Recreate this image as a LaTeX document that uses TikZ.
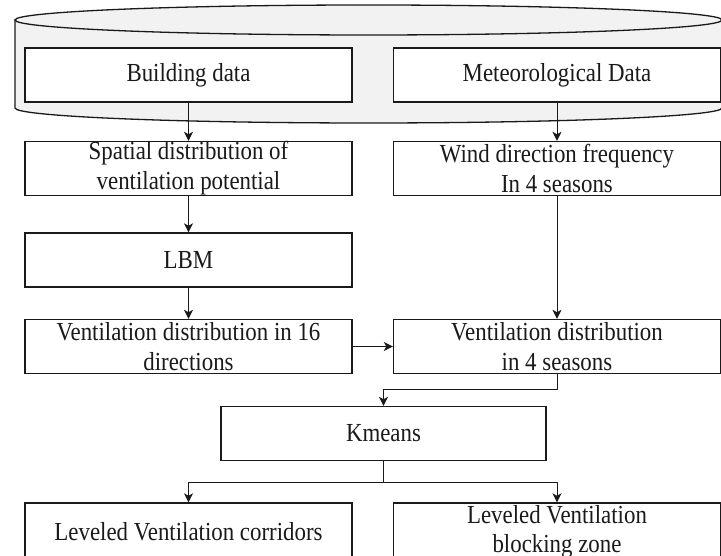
\documentclass[tikz,border=0pt]{standalone}
\usepackage{fontspec}
\setmainfont[FakeStretch=0.88]{Liberation Serif}
\usetikzlibrary{arrows.meta}
\definecolor{cylfill}{HTML}{F2F2F2}
\definecolor{ink}{HTML}{1A1A1A}
\begin{document}
\begin{tikzpicture}[x=1pt,y=1pt,
  box/.style={draw=ink, line width=1.4pt, fill=white, minimum width=327pt, minimum height=54pt,
    inner sep=0pt, align=center, text=ink, font=\fontsize{26pt}{30pt}\selectfont},
  arr/.style={draw=ink, line width=1pt, -{Stealth[length=9pt,width=9pt,inset=2.5pt]}},
  ln/.style={draw=ink, line width=1pt},
  cyl/.style={draw=ink, line width=1.3pt, fill=cylfill}]
\useasboundingbox (0,0) rectangle (721,556);
\clip (0,0) rectangle (721,556);
% cylinder
\path[cyl] (15,536) -- (15,448) arc[start angle=180,end angle=360,x radius=353.5pt,y radius=15pt] -- (722,536) -- cycle;
\draw[cyl] (368.5,536) ellipse[x radius=353.5pt, y radius=15pt];
% nodes
\node[box] (BD) at (188.5,481) {Building data};
\node[box] (MD) at (557,481) {Meteorological Data};
\node[box] (SP) at (188.5,387.5) {Spatial distribution of\\ventilation potential};
\node[box] (WD) at (557,387.5) {Wind direction frequency\\In 4 seasons};
\node[box] (LBM) at (188.5,296) {LBM};
\node[box] (V16) at (188.5,209.5) {Ventilation distribution in 16\\directions};
\node[box] (V4) at (557,209.5) {Ventilation distribution\\in 4 seasons};
\node[box, minimum width=325pt] (KM) at (383.5,122.5) {Kmeans};
\node[box, minimum height=58pt] (BL) at (188.5,24) {Leveled Ventilation corridors};
\node[box, minimum height=58pt, font=\fontsize{26pt}{29pt}\selectfont] (BR) at (557,24) {Leveled Ventilation\\blocking zone};
% connectors
\coordinate (e1) at (557,166);
\coordinate (s1) at (383.5,73);
\draw[arr] (BD) -- (SP);
\draw[arr] (MD) -- (WD);
\draw[arr] (SP) -- (LBM);
\draw[arr] (LBM) -- (V16);
\draw[arr] (WD) -- (V4);
\draw[arr] (V16) -- (V4);
\draw[arr] (V4.south) -- (e1) -| (KM.north);
\draw[ln] (KM.south) -- (s1);
\draw[arr] (s1) -| (BL.north);
\draw[arr] (s1) -| (BR.north);
\end{tikzpicture}
\end{document}
